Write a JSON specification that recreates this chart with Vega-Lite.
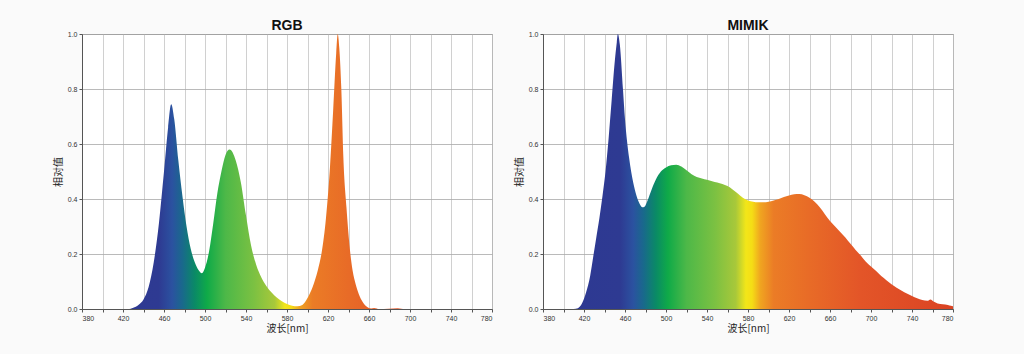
{
  "$schema": "https://vega.github.io/schema/vega-lite/v6.json",
  "autosize": {"type": "pad"},
  "padding": {"left": 52, "top": 18, "right": 70, "bottom": 20},
  "background": "#fafafa",
  "config": {
    "view": {"stroke": "#8a8a8a", "strokeWidth": 1, "fill": "#ffffff"},
    "title": {"font": "Liberation Sans", "fontSize": 14, "fontWeight": "bold", "color": "#111111", "anchor": "middle", "offset": -3},
    "axis": {"labelFont": "Liberation Sans", "labelFontSize": 7, "labelColor": "#333333", "titleFont": "Noto Sans CJK SC", "titleFontSize": 10, "titleFontWeight": "normal", "titleColor": "#222222", "domainColor": "#555555", "tickColor": "#555555", "tickSize": 3}
  },
  "datasets": {
    "rgb": [
      {"wl": 380, "v": 0}, {"wl": 425, "v": 0}, {"wl": 430, "v": 0.005}, {"wl": 435, "v": 0.015}, {"wl": 440, "v": 0.035},
      {"wl": 445, "v": 0.08}, {"wl": 450, "v": 0.17}, {"wl": 455, "v": 0.31}, {"wl": 460, "v": 0.5}, {"wl": 464, "v": 0.66},
      {"wl": 467, "v": 0.745}, {"wl": 470, "v": 0.69}, {"wl": 474, "v": 0.54}, {"wl": 478, "v": 0.41}, {"wl": 482, "v": 0.3},
      {"wl": 486, "v": 0.22}, {"wl": 490, "v": 0.17}, {"wl": 494, "v": 0.14}, {"wl": 497, "v": 0.13}, {"wl": 500, "v": 0.15},
      {"wl": 504, "v": 0.21}, {"wl": 508, "v": 0.31}, {"wl": 512, "v": 0.42}, {"wl": 516, "v": 0.5}, {"wl": 520, "v": 0.56},
      {"wl": 524, "v": 0.58}, {"wl": 530, "v": 0.54}, {"wl": 535, "v": 0.46}, {"wl": 540, "v": 0.34}, {"wl": 545, "v": 0.23},
      {"wl": 550, "v": 0.16}, {"wl": 555, "v": 0.115}, {"wl": 560, "v": 0.083}, {"wl": 565, "v": 0.06}, {"wl": 570, "v": 0.042},
      {"wl": 575, "v": 0.028}, {"wl": 580, "v": 0.018}, {"wl": 585, "v": 0.012}, {"wl": 590, "v": 0.01}, {"wl": 595, "v": 0.015},
      {"wl": 600, "v": 0.04}, {"wl": 605, "v": 0.08}, {"wl": 610, "v": 0.14}, {"wl": 614, "v": 0.21}, {"wl": 618, "v": 0.33},
      {"wl": 622, "v": 0.52}, {"wl": 625, "v": 0.72}, {"wl": 628, "v": 0.93}, {"wl": 629.5, "v": 1.0}, {"wl": 631, "v": 0.95},
      {"wl": 633, "v": 0.8}, {"wl": 635, "v": 0.55}, {"wl": 638, "v": 0.37}, {"wl": 641, "v": 0.23}, {"wl": 644, "v": 0.14},
      {"wl": 647, "v": 0.09}, {"wl": 650, "v": 0.055}, {"wl": 654, "v": 0.025}, {"wl": 658, "v": 0.008}, {"wl": 662, "v": 0.002},
      {"wl": 665, "v": 0.004}, {"wl": 670, "v": 0}, {"wl": 688, "v": 0.003}, {"wl": 695, "v": 0}, {"wl": 780, "v": 0}
    ],
    "mimik": [
      {"wl": 380, "v": 0}, {"wl": 410, "v": 0}, {"wl": 414, "v": 0.003}, {"wl": 418, "v": 0.02}, {"wl": 422, "v": 0.06},
      {"wl": 426, "v": 0.12}, {"wl": 429, "v": 0.19}, {"wl": 432, "v": 0.26}, {"wl": 435, "v": 0.33}, {"wl": 438, "v": 0.41},
      {"wl": 441, "v": 0.5}, {"wl": 444, "v": 0.62}, {"wl": 447, "v": 0.76}, {"wl": 450, "v": 0.9}, {"wl": 452, "v": 0.97},
      {"wl": 453, "v": 1.0}, {"wl": 455, "v": 0.96}, {"wl": 458, "v": 0.8}, {"wl": 460, "v": 0.69}, {"wl": 462, "v": 0.61},
      {"wl": 464, "v": 0.55}, {"wl": 466, "v": 0.5}, {"wl": 468, "v": 0.46}, {"wl": 471, "v": 0.415}, {"wl": 474, "v": 0.385},
      {"wl": 477, "v": 0.37}, {"wl": 479, "v": 0.372}, {"wl": 482, "v": 0.395}, {"wl": 486, "v": 0.435}, {"wl": 490, "v": 0.47}, {"wl": 495, "v": 0.5}, {"wl": 500, "v": 0.515},
      {"wl": 505, "v": 0.523}, {"wl": 510, "v": 0.525}, {"wl": 515, "v": 0.518}, {"wl": 520, "v": 0.505}, {"wl": 525, "v": 0.49},
      {"wl": 530, "v": 0.48}, {"wl": 535, "v": 0.475}, {"wl": 540, "v": 0.47}, {"wl": 545, "v": 0.465}, {"wl": 550, "v": 0.46},
      {"wl": 555, "v": 0.455}, {"wl": 560, "v": 0.447}, {"wl": 565, "v": 0.435}, {"wl": 570, "v": 0.42}, {"wl": 575, "v": 0.405},
      {"wl": 580, "v": 0.395}, {"wl": 585, "v": 0.39}, {"wl": 590, "v": 0.388}, {"wl": 595, "v": 0.388}, {"wl": 600, "v": 0.39},
      {"wl": 605, "v": 0.395}, {"wl": 610, "v": 0.4}, {"wl": 615, "v": 0.407}, {"wl": 620, "v": 0.413}, {"wl": 625, "v": 0.417},
      {"wl": 630, "v": 0.418}, {"wl": 635, "v": 0.414}, {"wl": 640, "v": 0.405}, {"wl": 645, "v": 0.39}, {"wl": 650, "v": 0.37},
      {"wl": 655, "v": 0.345}, {"wl": 660, "v": 0.32}, {"wl": 665, "v": 0.3}, {"wl": 670, "v": 0.28}, {"wl": 675, "v": 0.26},
      {"wl": 680, "v": 0.237}, {"wl": 685, "v": 0.215}, {"wl": 690, "v": 0.195}, {"wl": 695, "v": 0.172}, {"wl": 700, "v": 0.155},
      {"wl": 705, "v": 0.138}, {"wl": 710, "v": 0.12}, {"wl": 715, "v": 0.105}, {"wl": 720, "v": 0.09}, {"wl": 725, "v": 0.077},
      {"wl": 730, "v": 0.066}, {"wl": 735, "v": 0.056}, {"wl": 740, "v": 0.047}, {"wl": 745, "v": 0.039}, {"wl": 750, "v": 0.033},
      {"wl": 755, "v": 0.03}, {"wl": 758, "v": 0.035}, {"wl": 761, "v": 0.027}, {"wl": 765, "v": 0.02}, {"wl": 770, "v": 0.017},
      {"wl": 775, "v": 0.015}, {"wl": 778, "v": 0.012}, {"wl": 780, "v": 0.01}
    ]
  },
  "hconcat": [
    {
      "title": "RGB",
      "width": 410,
      "height": 275,
      "data": {"name": "rgb"},
      "mark": {
        "type": "area",
        "interpolate": "monotone",
        "fill": {"gradient": "linear", "x1": 0, "x2": 1, "y1": 0, "y2": 0, "stops": [
          {"offset": 0, "color": "#2d3892"}, {"offset": 0.1875, "color": "#2e3a92"}, {"offset": 0.22, "color": "#2b52a0"},
          {"offset": 0.245, "color": "#19698c"}, {"offset": 0.275, "color": "#0a8a66"}, {"offset": 0.305, "color": "#0faa48"},
          {"offset": 0.35, "color": "#4db848"}, {"offset": 0.42, "color": "#7cc142"}, {"offset": 0.47, "color": "#a8c83a"},
          {"offset": 0.495, "color": "#f2e619"}, {"offset": 0.51, "color": "#f5dd15"}, {"offset": 0.53, "color": "#f0a520"},
          {"offset": 0.5625, "color": "#eb7c26"}, {"offset": 0.65, "color": "#e86b27"}, {"offset": 0.775, "color": "#e35528"},
          {"offset": 1, "color": "#da4323"}
        ]},
        "stroke": null
      },
      "encoding": {
        "x": {"field": "wl", "type": "quantitative", "scale": {"domain": [380, 780], "nice": false},
          "axis": {"values": [380,400,420,440,460,480,500,520,540,560,580,600,620,640,660,680,700,720,740,760,780],
            "labelExpr": "(datum.value - 380) % 40 == 0 ? datum.label : ''", "grid": true, "gridColor": "#c4c4c4", "gridWidth": 0.8,
            "title": "波长[nm]", "titlePadding": 2, "labelPadding": 2}},
        "y": {"field": "v", "type": "quantitative", "scale": {"domain": [0, 1], "nice": false},
          "axis": {"values": [0, 0.2, 0.4, 0.6, 0.8, 1.0], "format": ".1f", "grid": true, "gridColor": "#a8a8a8", "gridWidth": 0.8,
            "title": "相对值", "titlePadding": 4, "labelPadding": 2}}
      }
    },
    {
      "title": "MIMIK",
      "width": 410,
      "height": 275,
      "data": {"name": "mimik"},
      "mark": {
        "type": "area",
        "interpolate": "monotone",
        "fill": {"gradient": "linear", "x1": 0, "x2": 1, "y1": 0, "y2": 0, "stops": [
          {"offset": 0, "color": "#2d3892"}, {"offset": 0.1875, "color": "#2e3a92"}, {"offset": 0.22, "color": "#2b52a0"},
          {"offset": 0.245, "color": "#19698c"}, {"offset": 0.275, "color": "#0a8a66"}, {"offset": 0.305, "color": "#0faa48"},
          {"offset": 0.35, "color": "#4db848"}, {"offset": 0.42, "color": "#7cc142"}, {"offset": 0.47, "color": "#a8c83a"},
          {"offset": 0.495, "color": "#f2e619"}, {"offset": 0.51, "color": "#f5dd15"}, {"offset": 0.53, "color": "#f0a520"},
          {"offset": 0.5625, "color": "#eb7c26"}, {"offset": 0.65, "color": "#e86b27"}, {"offset": 0.775, "color": "#e35528"},
          {"offset": 1, "color": "#da4323"}
        ]},
        "stroke": null
      },
      "encoding": {
        "x": {"field": "wl", "type": "quantitative", "scale": {"domain": [380, 780], "nice": false},
          "axis": {"values": [380,400,420,440,460,480,500,520,540,560,580,600,620,640,660,680,700,720,740,760,780],
            "labelExpr": "(datum.value - 380) % 40 == 0 ? datum.label : ''", "grid": true, "gridColor": "#c4c4c4", "gridWidth": 0.8,
            "title": "波长[nm]", "titlePadding": 2, "labelPadding": 2}},
        "y": {"field": "v", "type": "quantitative", "scale": {"domain": [0, 1], "nice": false},
          "axis": {"values": [0, 0.2, 0.4, 0.6, 0.8, 1.0], "format": ".1f", "grid": true, "gridColor": "#a8a8a8", "gridWidth": 0.8,
            "title": "相对值", "titlePadding": 4, "labelPadding": 2}}
      }
    }
  ],
  "spacing": 51,
  "bounds": "flush"
}
